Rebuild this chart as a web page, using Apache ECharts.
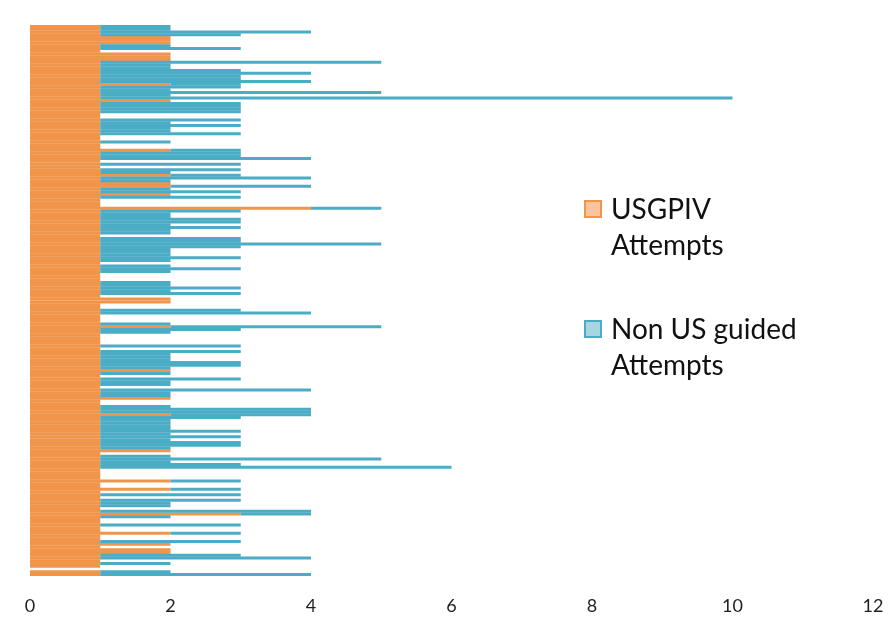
<!DOCTYPE html>
<html>
<head>
<meta charset="utf-8">
<script src="https://cdn.jsdelivr.net/npm/echarts@6/dist/echarts.min.js"></script>
<style>html,body{margin:0;padding:0;background:#fff}#c{width:892px;height:631px}</style>
</head>
<body>
<div id="c"></div>
<script>
// Rows listed top to bottom
var usgpivAttempts = [
1,1,1,1,2,2,2,1,1,1,
2,2,2,1,1,1,1,1,1,1,
1,2,1,1,1,1,1,2,1,1,
1,1,1,1,1,1,1,1,1,1,
1,1,1,1,1,2,1,1,1,1,
1,1,1,1,2,1,1,2,2,1,
1,2,1,1,1,1,4,1,1,1,
1,1,1,1,1,1,1,1,1,1,
1,1,1,1,1,1,1,1,1,1,
1,1,1,1,1,1,1,1,1,2,
2,1,1,1,1,1,1,1,1,2,
1,1,1,1,1,1,1,1,1,1,
1,1,1,1,1,2,1,1,1,1,
1,1,1,1,1,2,1,1,1,1,
1,2,1,1,1,1,1,1,1,1,
1,1,1,1,2,1,1,1,1,1,
1,1,1,1,1,2,1,1,2,1,
1,1,1,1,1,1,1,3,1,1,
1,1,1,1,2,1,1,1,2,1,
2,2,1,1,1,1,1,0,1,1
];
var nonUsGuidedAttempts = [
1,1,3,2,0,0,0,1,2,0,
0,0,0,4,1,1,2,3,2,2,
3,1,2,1,4,1,9,0,2,2,
2,2,0,0,2,1,2,1,1,2,
0,0,1,0,0,1,2,2,3,0,
2,0,2,1,1,3,1,0,2,1,
2,0,2,0,0,0,1,2,1,1,
2,2,1,2,1,1,0,2,2,4,
2,1,1,1,2,1,0,1,2,1,
0,0,0,1,1,2,1,2,0,0,
0,0,0,2,3,0,0,0,1,3,
2,1,0,0,0,0,2,0,2,1,
1,1,2,2,1,0,1,0,2,1,
1,0,3,1,1,0,0,0,1,3,
3,2,2,1,1,1,1,2,1,2,
1,2,2,1,0,0,1,4,1,2,
5,0,0,0,0,1,0,0,1,0,
2,0,2,1,1,0,3,1,1,0,
0,2,0,0,1,0,0,2,0,0,
0,0,2,3,0,1,0,0,1,3
];
var seriesNames = ['USGPIV\nAttempts', 'Non US guided\nAttempts'];
var categories = usgpivAttempts.map(function (_, i) { return 'P' + (i + 1); });

var ORANGE = '#F0954A', BLUE = '#4BACC6';
var chart = echarts.init(document.getElementById('c'), null, {renderer: 'canvas'});
chart.setOption({
  animation: false,
  grid: {left: 30, right: 19, top: 25, bottom: 55, containLabel: false},
  xAxis: {
    type: 'value', min: 0, max: 12, interval: 2,
    axisLine: {show: false}, axisTick: {show: false}, splitLine: {show: false},
    axisLabel: {fontFamily: 'Lato', fontSize: 18, color: '#1f1f1f', margin: 21}
  },
  yAxis: {
    type: 'category', data: categories, inverse: true,
    axisLine: {show: false}, axisTick: {show: false}, axisLabel: {show: false}
  },
  legend: {show: false},
  series: [
    {name: seriesNames[0], type: 'bar', stack: 'a', data: usgpivAttempts,
     barWidth: 3, itemStyle: {color: ORANGE}},
    {name: seriesNames[1], type: 'bar', stack: 'a', data: nonUsGuidedAttempts,
     barWidth: 3, itemStyle: {color: BLUE}}
  ],
  graphic: [
    {type: 'rect', shape: {x: 585, y: 201, width: 16, height: 16},
     style: {fill: '#FBC49C', stroke: ORANGE, lineWidth: 2}},
    {type: 'text', x: 611, y: 192,
     style: {text: seriesNames[0], fontFamily: 'Lato', fontSize: 28, lineHeight: 36, fill: '#111'}},
    {type: 'rect', shape: {x: 585, y: 321, width: 16, height: 16},
     style: {fill: '#A9D4E2', stroke: BLUE, lineWidth: 2}},
    {type: 'text', x: 611, y: 312,
     style: {text: seriesNames[1], fontFamily: 'Lato', fontSize: 28, lineHeight: 36, fill: '#111'}}
  ]
});
</script>
</body>
</html>
